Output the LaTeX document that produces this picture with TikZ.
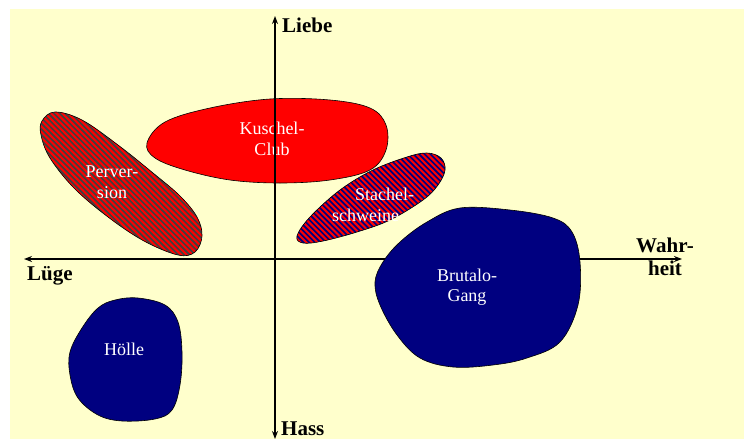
\documentclass[tikz,border=0pt]{standalone}
\usepackage{fontspec}
\setmainfont{Liberation Serif}
\usetikzlibrary{arrows.meta}
\definecolor{paper}{HTML}{FFFFCC}
\definecolor{navy}{HTML}{000080}
\definecolor{hatchgray}{HTML}{404040}
\tikzset{
  blob/.style={draw=black, line width=0.6pt},
  streifen/.style={red, line width=2pt},
  achse/.style={line width=2.6pt, -{Stealth[length=8pt,width=6pt]}},
  achstext/.style={font=\fontsize{21}{23}\selectfont\bfseries, inner sep=0pt},
  feldtext/.style={font=\fontsize{18}{20.5}\selectfont, text=white, align=center, inner sep=0pt}
}
\newcommand{\perversionpfad}{plot[smooth cycle, tension=0.6] coordinates {(42,121) (55,112) (82,120) (118,145) (153,173) (180,196) (197,217) (202,236) (195,252) (178,255) (144,241) (108,217) (74,188) (50,158) (41,135)}}
\newcommand{\stachelpfad}{plot[smooth cycle, tension=0.6] coordinates {(427,153) (441,158) (445,170) (438,185) (423,200) (390,220) (357,232) (323,241) (303,243) (297,236) (310,217) (340,190) (373,170) (407,157)}}
\begin{document}
\begin{tikzpicture}[x=1pt,y=-1pt]
\useasboundingbox (0,0) rectangle (744,439);
\fill[paper] (10,9) rectangle (744,439);
% Kuschel-Club liegt unter der senkrechten Achse
\draw[blob, fill=red] plot[smooth cycle, tension=0.6] coordinates {(147,143) (165,122) (210,108) (270,99) (330,100) (370,108) (386,125) (386,150) (370,170) (330,180) (280,183) (230,180) (185,170) (155,158)};
\node[feldtext] (kuschel) at (272,139) {Kuschel-\\Club};
% Achsen
\coordinate (mitte) at (275,259);
\coordinate (oben) at (275,16);
\coordinate (unten) at (275,439);
\coordinate (links) at (24,259);
\coordinate (rechts) at (682,259);
\draw[achse] (mitte) -- (oben);
\draw[achse] (mitte) -- (unten);
\draw[achse] (mitte) -- (links);
\draw[achse] (mitte) -- (rechts);
\node[achstext, anchor=base west] (liebe) at (282,32) {Liebe};
\node[achstext, anchor=base west] (hass) at (281,435.5) {Hass};
\node[achstext, anchor=base west] (luege) at (27,280) {Lüge};
\node[achstext, align=center] (wahrheit) at (665,257) {Wahr-\\heit};
% Felder, schraffiert
\begin{scope}
  \clip \perversionpfad;
  \fill[hatchgray] (30,100) rectangle (215,265);
  \foreach \s in {-200,-194.34,...,220} \draw[streifen] (\s,100) -- ++(170,170);
\end{scope}
\draw[blob] \perversionpfad;
\node[feldtext] (perversion) at (112,182) {Perver-\\sion};
\begin{scope}
  \clip \stachelpfad;
  \fill[navy] (290,145) rectangle (450,250);
  \foreach \s in {170,175.66,...,460} \draw[streifen] (\s,140) -- ++(120,120);
\end{scope}
\draw[blob] \stachelpfad;
\node[feldtext, align=left, anchor=west] (stachel) at (332,205) {\hspace*{23pt}Stachel-\\schweine};
% Felder, voll
\draw[blob, fill=navy] plot[smooth cycle, tension=0.6] coordinates {(460,208) (510,210) (553,218) (572,232) (580,262) (578,305) (560,342) (527,358) (493,365) (453,367) (420,358) (397,335) (380,305) (375,282) (383,262) (400,242) (427,222)};
\node[feldtext] (brutalo) at (467,287) {Brutalo-\\Gang};
\draw[blob, fill=navy] plot[smooth cycle, tension=0.6] coordinates {(115,300) (138,298) (165,305) (178,322) (182,352) (180,385) (172,410) (155,419) (122,421) (98,415) (78,398) (70,375) (70,352) (82,328) (98,308)};
\node[feldtext] (hoelle) at (124,349) {Hölle};
\end{tikzpicture}
\end{document}
